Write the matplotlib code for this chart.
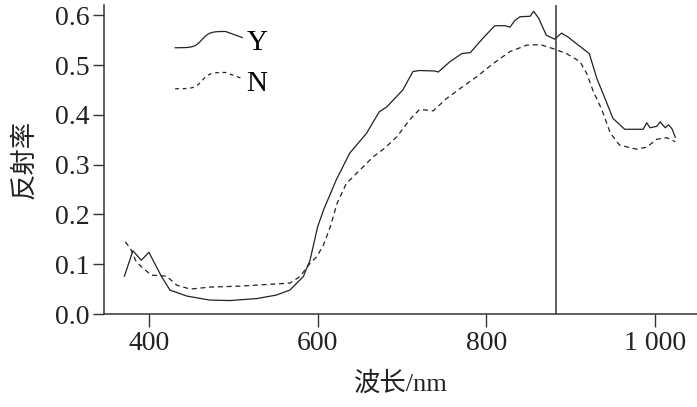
import numpy as np
import matplotlib
matplotlib.use('Agg')
import matplotlib.pyplot as plt
from matplotlib.legend_handler import HandlerLine2D
from matplotlib.lines import Line2D

# spectral reflectance
y_wl = [371, 381, 391, 400, 415, 425, 445, 472, 496, 528, 551, 567, 583, 591, 600, 607,
        622, 638, 658, 673, 682, 701, 713, 721, 739, 743, 757, 771, 781, 796, 810, 822,
        828, 834, 840, 852, 856, 862, 871, 881, 889, 897, 909, 922, 931, 943, 950, 964,
        986, 990, 994, 1002, 1006, 1012, 1016, 1020, 1024]
y_val = [0.076, 0.127, 0.108, 0.124, 0.075, 0.048, 0.036, 0.028, 0.027, 0.031, 0.038, 0.048,
         0.075, 0.108, 0.175, 0.209, 0.269, 0.323, 0.363, 0.406, 0.416, 0.450, 0.487, 0.489,
         0.488, 0.486, 0.507, 0.523, 0.525, 0.554, 0.579, 0.579, 0.576, 0.590, 0.597, 0.598,
         0.608, 0.594, 0.560, 0.552, 0.564, 0.556, 0.540, 0.523, 0.473, 0.423, 0.393, 0.371,
         0.371, 0.384, 0.374, 0.377, 0.386, 0.374, 0.380, 0.372, 0.355]

n_wl = [372, 378, 385, 393, 403, 421, 433, 449, 472, 508, 547, 567, 579, 591, 599, 607,
        615, 623, 634, 650, 666, 678, 694, 709, 721, 737, 753, 769, 789, 808, 828, 848,
        864, 879, 895, 911, 919, 927, 937, 947, 958, 978, 990, 1002, 1014, 1024]
n_val = [0.145, 0.132, 0.105, 0.092, 0.078, 0.076, 0.058, 0.050, 0.054, 0.056, 0.060, 0.062,
         0.075, 0.102, 0.115, 0.139, 0.175, 0.222, 0.262, 0.289, 0.316, 0.331, 0.356, 0.390,
         0.411, 0.408, 0.433, 0.453, 0.477, 0.503, 0.527, 0.540, 0.541, 0.533, 0.523, 0.507,
         0.483, 0.446, 0.410, 0.363, 0.339, 0.331, 0.335, 0.351, 0.354, 0.346]

marker_wl = 883
xticks = [400, 600, 800, 1000]
xtick_labels = ['400', '600', '800', '1 000']
yticks = [0.0, 0.1, 0.2, 0.3, 0.4, 0.5, 0.6]

serif = 'Liberation Serif'
cjk = ['Liberation Serif', 'Noto Sans CJK SC']


# wavy legend sample like the hand drawn one
class WavyHandler(HandlerLine2D):
    def create_artists(self, legend, orig_handle, xdescent, ydescent,
                       width, height, fontsize, trans):
        t = np.linspace(0, 1, 40)
        xs = -xdescent + t * width
        ys = -ydescent + height * (0.1 + 0.8 * (np.tanh((t - 0.4) * 9) + 1) / 2
                                   - 0.3 * np.clip(t - 0.75, 0, None) / 0.25)
        ln = Line2D(xs, ys, color=orig_handle.get_color(),
                    linestyle=orig_handle.get_linestyle(),
                    linewidth=orig_handle.get_linewidth())
        if orig_handle.get_linestyle() != '-':
            ln.set_dashes((3, 3))
        ln.set_transform(trans)
        return [ln]


fig = plt.figure(figsize=(6.97, 4.07), dpi=100)
ax = fig.add_axes([0.149, 0.2285, 0.851, 0.7585])

l1, = ax.plot(y_wl, y_val, color='#222222', lw=0.9, label='Y')
l2, = ax.plot(n_wl, n_val, color='#222222', lw=0.9, linestyle=(0, (4, 3)), label='N')
ax.axvline(marker_wl, color='#333333', lw=1.1)

ax.set_xlim(346.6, 1049.7)
ax.set_ylim(0, 0.62)
ax.set_xticks(xticks)
ax.set_xticklabels(xtick_labels)
ax.set_yticks(yticks)
ax.set_yticklabels([f'{v:.1f}' for v in yticks])

for s in ['top', 'right']:
    ax.spines[s].set_visible(False)
for s in ['left', 'bottom']:
    ax.spines[s].set_color('#333333')
    ax.spines[s].set_linewidth(1.1)

ax.tick_params(axis='x', direction='out', length=9, width=1, color='#333333', pad=3)
ax.tick_params(axis='y', direction='out', length=8, width=1, color='#333333', pad=2)
for lab in ax.get_xticklabels() + ax.get_yticklabels():
    lab.set_fontfamily(serif)
    lab.set_fontsize(20)
    lab.set_color('#222222')

ax.set_xlabel('波长/nm', family=cjk, fontsize=19, color='#222222', labelpad=11)
ax.set_ylabel('反射率', family=cjk, fontsize=19, color='#222222', labelpad=14)

leg = ax.legend(handles=[l1, l2], loc='upper left', bbox_to_anchor=(0.076, 1.007),
                frameon=False, handlelength=2.3, handletextpad=0.15, labelspacing=0.5,
                prop={'family': serif, 'size': 21},
                handler_map={Line2D: WavyHandler()})

fig.savefig('out.png', dpi=100)
